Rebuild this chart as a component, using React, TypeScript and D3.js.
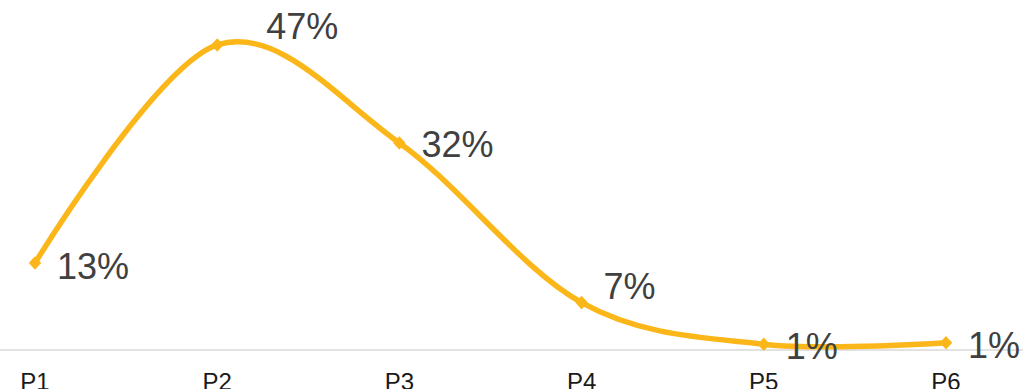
import React from "react";
import * as d3 from "d3";

const categories = ["P1", "P2", "P3", "P4", "P5", "P6"];
const values = [13.4, 47.0, 31.9, 7.3, 0.9, 1.1];
const labels = ["13%", "47%", "32%", "7%", "1%", "1%"];
// label nudges (px) relative to default "right" placement
const labelDx = [22, 49, 22, 22, 22, 22];
const labelDy = [3, -18, 2, -16, 2, 3];

const W = 1023;
const H = 389;

export default function App() {
  const x = d3.scalePoint<string>().domain(categories).range([35, 946]);
  const y = d3.scaleLinear().domain([0, 50]).range([350, 25.5]);
  const pts = categories.map((c, i) => [x(c) as number, y(values[i])] as [number, number]);
  const line = d3.line().curve(d3.curveCardinal.tension(0));
  const sym = d3.symbol().type(d3.symbolDiamond2).size(100)() as string;
  const color = "#FBB71A";
  return (
    <svg
      width={W}
      height={H}
      style={{ position: "absolute", left: 0, top: 0, fontFamily: "'Liberation Sans', Arial, sans-serif" }}
    >
      <line x1={0} x2={W} y1={y(0)} y2={y(0)} stroke="#d9d9d9" strokeWidth={1.5} />
      <path d={line(pts) as string} fill="none" stroke={color} strokeWidth={5.5} strokeLinecap="round" />
      {pts.map((p, i) => (
        <path key={"m" + i} d={sym} transform={`translate(${p[0]},${p[1]}) scale(1,1.08)`} fill={color} />
      ))}
      {pts.map((p, i) => (
        <text
          key={"l" + i}
          x={p[0] + labelDx[i]}
          y={p[1] + labelDy[i]}
          dominantBaseline="central"
          fontSize={36}
          fill="#404040"
        >
          {labels[i]}
        </text>
      ))}
      {categories.map((c) => (
        <text key={c} x={x(c) as number} y={389.5} textAnchor="middle" fontSize={24} fill="#1a1a1a">
          {c}
        </text>
      ))}
    </svg>
  );
}
